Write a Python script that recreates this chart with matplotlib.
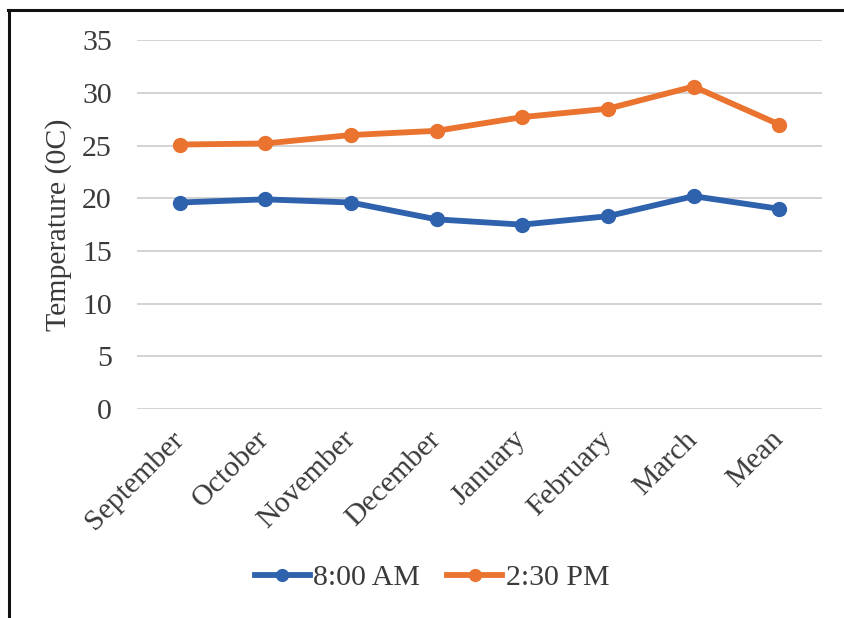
import matplotlib
matplotlib.use("Agg")
import matplotlib.pyplot as plt
from matplotlib.lines import Line2D

# Monthly temperatures at two reading times
categories = ["September", "October", "November", "December",
              "January", "February", "March", "Mean"]
temp_0800 = [19.6, 19.9, 19.6, 18.0, 17.5, 18.3, 20.2, 19.0]
temp_1430 = [25.1, 25.2, 26.0, 26.4, 27.7, 28.5, 30.6, 27.0]
series_names = ["8:00 AM", "2:30 PM"]
y_ticks = [0, 5, 10, 15, 20, 25, 30, 35]

BLUE = "#2f62ad"
ORANGE = "#ea7330"
TEXT = "#3a3a3a"
FS = 21.5

plt.rcParams["font.family"] = ["Liberation Serif", "DejaVu Serif"]

fig = plt.figure(figsize=(8.44, 6.18), dpi=100)
ax = fig.add_axes([0.162, 0.338, 0.812, 0.597])

x = list(range(len(categories)))
ax.plot(x, temp_0800, color=BLUE, lw=4.2, marker="o", ms=10,
        label=series_names[0], solid_joinstyle="round", zorder=3)
ax.plot(x, temp_1430, color=ORANGE, lw=4.2, marker="o", ms=10,
        label=series_names[1], solid_joinstyle="round", zorder=3)

ax.set_xlim(-0.5, len(categories) - 0.5)
ax.set_ylim(0, 35)
ax.set_yticks(y_ticks)
ax.set_yticklabels([str(t) for t in y_ticks], fontsize=FS, color=TEXT)
ax.set_xticks(x)
ax.set_xticklabels(categories, fontsize=FS, color=TEXT, rotation=45,
                   ha="right", va="center", rotation_mode="anchor")
ax.tick_params(axis="y", length=0, pad=18)
ax.tick_params(axis="x", length=0, pad=19)

ax.grid(axis="y", color="#d3d3d3", lw=1.4)
ax.set_axisbelow(True)
for s in ax.spines.values():
    s.set_visible(False)

ax.set_ylabel("Temperature (0C)", fontsize=FS, color=TEXT)
ax.yaxis.set_label_coords(-0.094, 0.5)

leg = ax.legend(loc="center", bbox_to_anchor=(432 / 844, 1 - 578 / 618),
                bbox_transform=fig.transFigure, ncol=2, frameon=False,
                fontsize=FS, handlelength=1.85, handletextpad=0.12,
                columnspacing=0.9, markerscale=0.85)
for t in leg.get_texts():
    t.set_color(TEXT)

# Outer frame lines (left and top edges)
fig.add_artist(Line2D([9 / 844, 9 / 844], [0, 1 - 10 / 618],
                      transform=fig.transFigure, color="#111111", lw=2.2))
fig.add_artist(Line2D([8 / 844, 1], [1 - 10 / 618, 1 - 10 / 618],
                      transform=fig.transFigure, color="#111111", lw=2.2))

fig.savefig("out.png", dpi=100)
